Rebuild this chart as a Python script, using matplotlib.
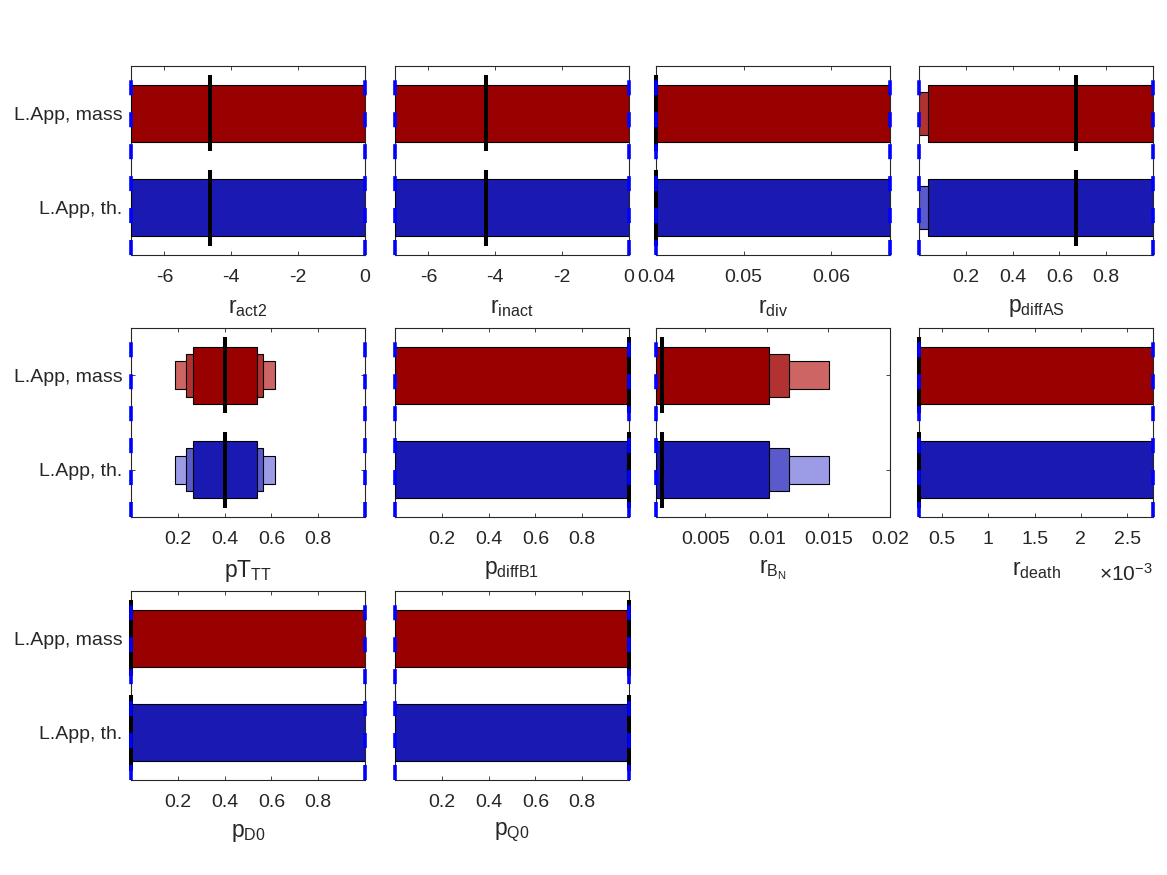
import numpy as np
import matplotlib.pyplot as plt
from matplotlib.ticker import FuncFormatter

plt.rcParams['font.family'] = ['Liberation Sans', 'DejaVu Sans']
plt.rcParams['mathtext.fontset'] = 'custom'
plt.rcParams['mathtext.rm'] = 'Liberation Sans'
plt.rcParams['mathtext.it'] = 'Liberation Sans'
plt.rcParams['axes.unicode_minus'] = False
plt.rcParams['lines.scale_dashes'] = False

# parameter names (x labels)
labels = [r'$\mathregular{r_{act2}}$', r'$\mathregular{r_{inact}}$', r'$\mathregular{r_{div}}$',
          r'$\mathregular{p_{diffAS}}$', r'$\mathregular{pT_{TT}}$', r'$\mathregular{p_{diffB1}}$',
          r'$\mathregular{r_{B_N}}$', r'$\mathregular{r_{death}}$', r'$\mathregular{p_{D0}}$',
          r'$\mathregular{p_{Q0}}$']
models = ['L.App, mass', 'L.App, th.']

# axis limits / prior bounds
xmin = [-7, -7, 0.04, 0, 0, 0, 0.001, 0.25e-3, 0, 0]
xmax = [0, 0, 0.0667, 1, 1, 1, 0.02, 2.78e-3, 1, 1]
show_ub = [True, True, True, True, True, True, False, True, True, True]

# MAP estimates
map_est = [-4.64, -4.27, 0.04, 0.672, 0.40, 0.999, 0.00148, 0.25e-3, 0.0, 1.0]

# credible intervals (inner / middle / outer), same for both models
ci_in_lo = [-7, -7, 0.04, 0.037, 0.264, 0, 0.001, 0.25e-3, 0, 0]
ci_in_hi = [0, 0, 0.0667, 1, 0.539, 0.99, 0.01015, 2.78e-3, 1, 1]
ci_mid_lo = [-7, -7, 0.04, 0.0, 0.237, 0, 0.001, 0.25e-3, 0, 0]
ci_mid_hi = [0, 0, 0.0667, 1, 0.565, 0.99, 0.01178, 2.78e-3, 1, 1]
ci_out_lo = [-7, -7, 0.04, 0.0, 0.186, 0, 0.001, 0.25e-3, 0, 0]
ci_out_hi = [0, 0, 0.0667, 1, 0.616, 0.99, 0.01505, 2.78e-3, 1, 1]

xticks = [[-6, -4, -2, 0], [-6, -4, -2, 0], [0.04, 0.05, 0.06],
          [0.2, 0.4, 0.6, 0.8], [0.2, 0.4, 0.6, 0.8], [0.2, 0.4, 0.6, 0.8],
          [0.005, 0.01, 0.015, 0.02], [0.5e-3, 1e-3, 1.5e-3, 2e-3, 2.5e-3],
          [0.2, 0.4, 0.6, 0.8], [0.2, 0.4, 0.6, 0.8]]

reds = ['#990000', '#b23232', '#cd6565']
blues = ['#1a1ab2', '#5a5acc', '#9b9be6']
ypos = [2, 1]

W, Hf = 1167, 875
lefts = [131, 395, 656, 919]
tops = [66, 328, 591]
aw, ah = 234, 189
axcol = '#262626'

fig = plt.figure(figsize=(W / 100, Hf / 100), dpi=100)

for i in range(10):
    r, c = divmod(i, 4)
    ax = fig.add_axes([lefts[c] / W, 1 - (tops[r] + ah) / Hf, aw / W, ah / Hf])
    for m, y in enumerate(ypos):
        cols = reds if m == 0 else blues
        ax.barh(y, ci_out_hi[i] - ci_out_lo[i], left=ci_out_lo[i], height=0.3,
                color=cols[2], edgecolor='black', linewidth=0.8, zorder=1)
        ax.barh(y, ci_mid_hi[i] - ci_mid_lo[i], left=ci_mid_lo[i], height=0.45,
                color=cols[1], edgecolor='black', linewidth=0.8, zorder=2)
        ax.barh(y, ci_in_hi[i] - ci_in_lo[i], left=ci_in_lo[i], height=0.6,
                color=cols[0], edgecolor='black', linewidth=0.8, zorder=3)
        ax.plot([map_est[i], map_est[i]], [y - 0.4, y + 0.4], color='black', lw=2.9,
                solid_capstyle='butt', clip_on=False, zorder=4)
    bounds = [xmin[i], xmax[i]] if show_ub[i] else [xmin[i]]
    for b in bounds:
        ax.plot([b, b], [0.5, 2.5], color=(0, 0, 1), lw=2.6, ls=(0, (10.8, 12.2)),
                clip_on=False, zorder=5)
    ax.set_xlim(xmin[i], xmax[i])
    ax.set_ylim(0.5, 2.5)
    ax.set_xticks(xticks[i])
    if i == 7:
        ax.xaxis.set_major_formatter(FuncFormatter(lambda v, p: '%g' % round(v * 1e3, 6)))
        ax.text(1.0, -0.335, r'$\times\mathregular{10^{-3}}$', transform=ax.transAxes,
                ha='right', va='baseline', fontsize=15, color=axcol)
    else:
        ax.xaxis.set_major_formatter(FuncFormatter(lambda v, p: '%g' % round(v, 6)))
    ax.set_yticks(ypos)
    if c == 0:
        ax.set_yticklabels(models)
    else:
        ax.set_yticklabels([])
    ax.tick_params(direction='in', top=True, right=True, length=3, width=0.6,
                   labelsize=14, colors=axcol)
    ax.tick_params(axis='x', pad=10)
    ax.tick_params(axis='y', pad=6)
    for s in ax.spines.values():
        s.set_color(axcol)
        s.set_linewidth(0.8)
    ax.set_xlabel(labels[i], fontsize=16.5, color=axcol, labelpad=7)

fig.savefig('out.png', dpi=100)
